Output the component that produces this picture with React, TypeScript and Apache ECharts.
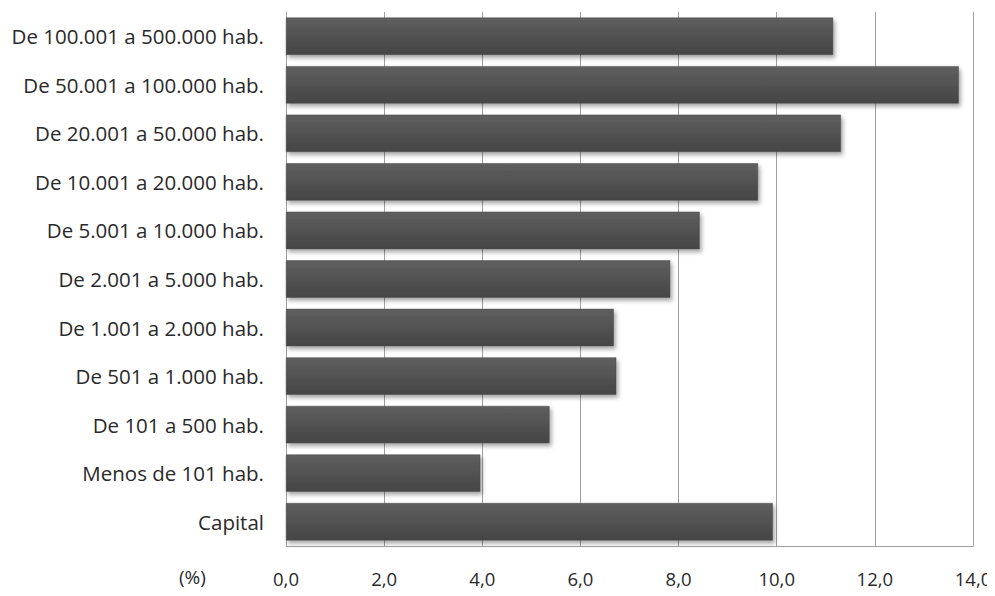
import React, { useEffect, useRef } from "react";
import * as echarts from "echarts";

const categories = [
  "De 100.001 a 500.000 hab.",
  "De 50.001 a 100.000 hab.",
  "De 20.001 a 50.000 hab.",
  "De 10.001 a 20.000 hab.",
  "De 5.001 a 10.000 hab.",
  "De 2.001 a 5.000 hab.",
  "De 1.001 a 2.000 hab.",
  "De 501 a 1.000 hab.",
  "De 101 a 500 hab.",
  "Menos de 101 hab.",
  "Capital",
];
const values = [11.15, 13.71, 11.31, 9.62, 8.43, 7.83, 6.68, 6.73, 5.37, 3.96, 9.92];
const unitLabel = "(%)";

export default function App() {
  const ref = useRef<HTMLDivElement>(null);
  useEffect(() => {
    if (!ref.current) return;
    const chart = echarts.init(ref.current, undefined, { renderer: "svg" });
    const font = "'Open Sans', 'Liberation Sans', sans-serif";
    chart.setOption({
      animation: false,
      backgroundColor: "#ffffff",
      grid: { left: 286, right: 22, top: 12, bottom: 50, containLabel: false },
      xAxis: {
        type: "value",
        min: 0,
        max: 14,
        interval: 2,
        axisLine: { show: true, lineStyle: { color: "#a0a0a0", width: 1 } },
        axisTick: { show: false },
        splitLine: { show: true, lineStyle: { color: "#a0a0a0", width: 1 } },
        axisLabel: {
          margin: 23,
          color: "#2a2a2a",
          fontFamily: font,
          fontSize: 18.5,
          formatter: (v: number) => v.toFixed(1).replace(".", ","),
        },
      },
      yAxis: {
        type: "category",
        data: categories,
        inverse: true,
        axisLine: { show: true, lineStyle: { color: "#a0a0a0", width: 1 } },
        axisTick: { show: false },
        axisLabel: {
          margin: 22,
          color: "#2a2a2a",
          fontFamily: font,
          fontSize: 20.5,
        },
      },
      graphic: [
        {
          type: "text",
          left: 179,
          top: 567,
          style: {
            text: unitLabel,
            fill: "#2a2a2a",
            font: `19px ${font}`,
          },
        },
      ],
      series: [
        {
          type: "bar",
          data: values,
          barCategoryGap: "23%",
          itemStyle: {
            color: new echarts.graphic.LinearGradient(0, 0, 0, 1, [
              { offset: 0, color: "#5f5f5f" },
              { offset: 1, color: "#454545" },
            ]),
            borderColor: "#4a4a4a",
            borderWidth: 0.5,
            shadowBlur: 4,
            shadowOffsetX: 2,
            shadowOffsetY: 3,
            shadowColor: "rgba(0,0,0,0.35)",
          },
        },
      ],
    });
    return () => chart.dispose();
  }, []);
  return <div ref={ref} style={{ width: 995, height: 596, margin: -8 }} />;
}
